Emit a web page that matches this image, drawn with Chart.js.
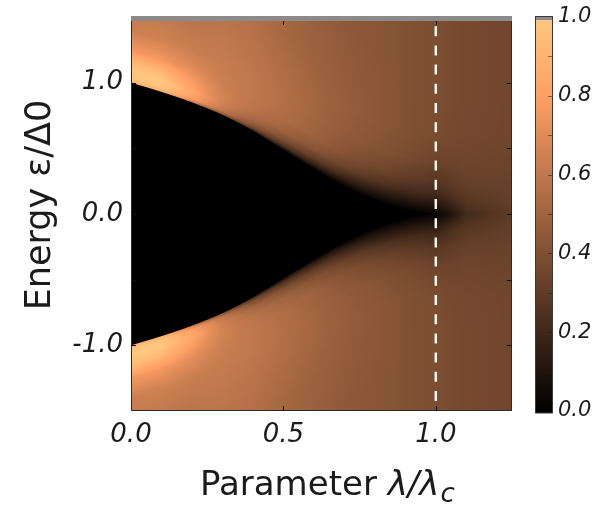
<!DOCTYPE html>
<html><head><meta charset="utf-8">
<script src="https://cdn.jsdelivr.net/npm/chart.js@4.4.1/dist/chart.umd.min.js"></script>
<style>html,body{margin:0;padding:0;background:#fff;}canvas{display:block;}</style>
</head><body>
<canvas id="c" width="602" height="511"></canvas>
<script>
// ---- data ----
const lambdaRange = [0, 1.25];
const energyRange = [-1.5, 1.5];
const lambdaTickStep = 0.5;
const energyTickStep = 0.5;
const colorbarTickStep = 0.2;
const criticalLambda = 1.0;
// columns of the map (lambda / lambda_c)
const lambdaCols = [0, 0.1, 0.2, 0.3, 0.4, 0.5, 0.6, 0.7, 0.8, 0.9, 1.0, 1.05, 1.1, 1.25];
// gap edge (epsilon / Delta0) per column
const gapEdge = [1.0, 0.93, 0.85, 0.755, 0.635, 0.49, 0.345, 0.215, 0.11, 0.035, 0, 0, 0, 0];
// rows: distance above the gap edge, |eps| - gap
const aboveGap = [0, 0.03, 0.08, 0.15, 0.25, 0.4, 0.6, 0.9, 1.2, 1.5];
// density of states per column, along aboveGap
const dosL000 = [0.88, 0.98, 1.00, 0.94, 0.76, 0.64, 0.61, 0.60, 0.60, 0.60];
const dosL010 = [0.88, 0.98, 1.00, 0.92, 0.76, 0.65, 0.60, 0.58, 0.58, 0.58];
const dosL020 = [0.62, 0.80, 0.84, 0.79, 0.71, 0.63, 0.59, 0.57, 0.57, 0.57];
const dosL030 = [0.40, 0.60, 0.65, 0.66, 0.64, 0.62, 0.60, 0.57, 0.56, 0.56];
const dosL040 = [0.20, 0.40, 0.52, 0.58, 0.60, 0.60, 0.58, 0.56, 0.55, 0.55];
const dosL050 = [0.05, 0.25, 0.40, 0.50, 0.55, 0.56, 0.55, 0.52, 0.51, 0.51];
const dosL060 = [0.02, 0.15, 0.30, 0.42, 0.49, 0.51, 0.51, 0.49, 0.48, 0.48];
const dosL070 = [0.02, 0.10, 0.22, 0.34, 0.42, 0.46, 0.47, 0.46, 0.45, 0.45];
const dosL080 = [0.01, 0.07, 0.15, 0.27, 0.36, 0.42, 0.44, 0.44, 0.43, 0.43];
const dosL090 = [0.01, 0.05, 0.12, 0.22, 0.31, 0.38, 0.41, 0.41, 0.41, 0.41];
const dosL100 = [0.02, 0.05, 0.12, 0.20, 0.27, 0.34, 0.38, 0.39, 0.39, 0.39];
const dosL105 = [0.10, 0.13, 0.19, 0.25, 0.30, 0.34, 0.37, 0.38, 0.38, 0.38];
const dosL110 = [0.21, 0.23, 0.26, 0.29, 0.32, 0.35, 0.36, 0.37, 0.37, 0.37];
const dosL125 = [0.30, 0.30, 0.31, 0.32, 0.33, 0.34, 0.35, 0.35, 0.35, 0.35];
const dosColumns = [dosL000, dosL010, dosL020, dosL030, dosL040, dosL050, dosL060,
                    dosL070, dosL080, dosL090, dosL100, dosL105, dosL110, dosL125];

// ---- helpers ----
function locate(arr, v) {
  if (v <= arr[0]) return [0, 0];
  const n = arr.length - 1;
  if (v >= arr[n]) return [n - 1, 1];
  let i = 0;
  while (i < n - 1 && v > arr[i + 1]) i++;
  return [i, (v - arr[i]) / (arr[i + 1] - arr[i])];
}
// smooth (monotone cubic) reading of the gap edge between the sampled columns
function makeMonotone(xsArr, ysArr) {
  const n = xsArr.length, m = new Array(n), dk = [];
  for (let i = 0; i < n - 1; i++) dk.push((ysArr[i + 1] - ysArr[i]) / (xsArr[i + 1] - xsArr[i]));
  m[0] = dk[0]; m[n - 1] = dk[n - 2];
  for (let i = 1; i < n - 1; i++) m[i] = (dk[i - 1] * dk[i] <= 0) ? 0 : (dk[i - 1] + dk[i]) / 2;
  for (let i = 0; i < n - 1; i++) {
    if (dk[i] === 0) { m[i] = 0; m[i + 1] = 0; continue; }
    const a = m[i] / dk[i], b = m[i + 1] / dk[i], s = a * a + b * b;
    if (s > 9) { const t = 3 / Math.sqrt(s); m[i] = t * a * dk[i]; m[i + 1] = t * b * dk[i]; }
  }
  return v => {
    const [i, t] = locate(xsArr, v);
    const hh = xsArr[i + 1] - xsArr[i];
    const t2 = t * t, t3 = t2 * t;
    return (2 * t3 - 3 * t2 + 1) * ysArr[i] + (t3 - 2 * t2 + t) * hh * m[i] +
           (-2 * t3 + 3 * t2) * ysArr[i + 1] + (t3 - t2) * hh * m[i + 1];
  };
}
const gapAt = makeMonotone(lambdaCols, gapEdge);
function copper(v) {
  v = Math.max(0, Math.min(1, v));
  return [Math.min(255, 1.25 * v * 255), 0.7812 * v * 255, 0.4975 * v * 255];
}
const TEXT = '#1b1b1b';
const FAM = "'DejaVu Sans', sans-serif";

const heatmapPlugin = {
  id: 'heatmap',
  beforeDatasetsDraw(chart) {
    const { ctx, chartArea: a, scales } = chart;
    const xs = scales.x, ys = scales.y;
    const w = Math.round(a.right - a.left), h = Math.round(a.bottom - a.top);
    const off = document.createElement('canvas');
    off.width = w; off.height = h;
    const octx = off.getContext('2d');
    const img = octx.createImageData(w, h);
    const epp = (ys.max - ys.min) / h;
    for (let i = 0; i < w; i++) {
      const lam = xs.getValueForPixel(a.left + i + 0.5);
      const [ci, ct] = locate(lambdaCols, lam);
      const gap = Math.max(0, gapAt(lam));
      const c0 = dosColumns[ci], c1 = dosColumns[ci + 1];
      for (let j = 0; j < h; j++) {
        const e = Math.abs(ys.getValueForPixel(a.top + j + 0.5));
        const d = e - gap;
        let v = 0;
        const cover = gap > 0.002 ? Math.max(0, Math.min(1, d / epp + 0.5)) : 1;
        if (cover > 0) {
          const [ri, rt] = locate(aboveGap, Math.max(0, d));
          const v0 = c0[ri] * (1 - rt) + c0[ri + 1] * rt;
          const v1 = c1[ri] * (1 - rt) + c1[ri + 1] * rt;
          v = (v0 * (1 - ct) + v1 * ct) * cover;
        }
        const [r, g, b] = copper(v);
        const k = (j * w + i) * 4;
        img.data[k] = r; img.data[k + 1] = g; img.data[k + 2] = b; img.data[k + 3] = 255;
      }
    }
    octx.putImageData(img, 0, 0);
    ctx.drawImage(off, a.left, a.top);
  },
  afterDraw(chart) {
    const { ctx, chartArea: a, scales } = chart;
    const xs = scales.x, ys = scales.y, cb = scales.cb;
    ctx.save();
    // frame
    ctx.strokeStyle = '#2a2a2a'; ctx.lineWidth = 1;
    ctx.beginPath();
    ctx.moveTo(a.left + 0.5, a.top); ctx.lineTo(a.left + 0.5, a.bottom - 0.5);
    ctx.lineTo(a.right - 0.5, a.bottom - 0.5); ctx.lineTo(a.right - 0.5, a.top);
    ctx.stroke();
    ctx.fillStyle = '#8a8a8a';
    ctx.fillRect(a.left, a.top - 1, a.right - a.left, 5);
    // inner ticks
    ctx.strokeStyle = '#111'; ctx.lineWidth = 1;
    ctx.beginPath();
    xs.ticks.forEach(t => {
      const px = Math.round(xs.getPixelForValue(t.value)) + 0.5;
      if (px <= a.left + 2 || px >= a.right - 2) return;
      ctx.moveTo(px, a.bottom); ctx.lineTo(px, a.bottom - 5);
      ctx.moveTo(px, a.top + 4); ctx.lineTo(px, a.top + 8);
    });
    ys.ticks.forEach(t => {
      const py = Math.round(ys.getPixelForValue(t.value)) + 0.5;
      if (py <= a.top + 4 || py >= a.bottom - 2) return;
      ctx.moveTo(a.left, py); ctx.lineTo(a.left + 5, py);
      ctx.moveTo(a.right, py); ctx.lineTo(a.right - 5, py);
    });
    ctx.stroke();
    // colorbar
    const bx0 = a.right + 23, bx1 = a.right + 41;
    const by0 = cb.getPixelForValue(1), by1 = cb.getPixelForValue(0) + 2;
    const grad = ctx.createLinearGradient(0, by1, 0, by0);
    for (let s = 0; s <= 20; s++) {
      const [r, g, b] = copper(s / 20);
      grad.addColorStop(s / 20, `rgb(${r | 0},${g | 0},${b | 0})`);
    }
    ctx.fillStyle = grad;
    ctx.fillRect(bx0, by0, bx1 - bx0, by1 - by0);
    ctx.fillStyle = '#8a8a8a';
    ctx.fillRect(bx0, by0 - 1, bx1 - bx0, 4);
    ctx.strokeStyle = '#3a3a3a';
    ctx.strokeRect(bx0 + 0.5, by0 - 0.5, bx1 - bx0 - 1, by1 - by0 + 0.5);
    ctx.strokeStyle = 'rgba(50,25,10,0.55)';
    ctx.beginPath();
    for (let s = 1; s < 10; s++) {
      const py = Math.round(cb.getPixelForValue(s / 10)) + 0.5;
      ctx.moveTo(bx1 - 1, py); ctx.lineTo(bx1 - 5, py);
    }
    ctx.stroke();
    // axis titles
    ctx.fillStyle = TEXT;
    ctx.textBaseline = 'alphabetic';
    ctx.textAlign = 'left';
    let x = a.left + 69;
    const yb = 495;
    ctx.font = `34px ${FAM}`;
    const p1 = 'Parameter ';
    ctx.fillText(p1, x, yb); x += ctx.measureText(p1).width;
    ctx.font = `italic 34px ${FAM}`;
    const p2 = 'λ/λ';
    ctx.fillText(p2, x, yb); x += ctx.measureText(p2).width + 1;
    ctx.font = `italic 26px ${FAM}`;
    ctx.fillText('c', x, yb + 7);
    ctx.save();
    ctx.translate(50, (a.top + a.bottom) / 2 - 9);
    ctx.rotate(-Math.PI / 2);
    ctx.textAlign = 'center';
    ctx.font = `35px ${FAM}`;
    ctx.fillText('Energy ε/Δ0', 0, 0);
    ctx.restore();
    ctx.restore();
  }
};

function noPad(s) { s.paddingTop = 0; s.paddingBottom = 0; s.paddingLeft = 0; s.paddingRight = 0; }
const tickFont = { family: FAM, style: 'italic', size: 26 };
new Chart(document.getElementById('c'), {
  type: 'scatter',
  data: {
    datasets: [{
      data: [{ x: criticalLambda, y: energyRange[1] }, { x: criticalLambda, y: energyRange[0] }],
      showLine: true,
      borderColor: 'rgba(250,250,244,0.97)',
      borderWidth: 2.5,
      borderDash: [10, 9.2],
      borderDashOffset: 10,
      pointRadius: 0,
      xAxisID: 'x', yAxisID: 'y'
    }]
  },
  options: {
    responsive: false,
    animation: false,
    events: [],
    layout: { padding: { top: 17, left: 0, right: 0, bottom: 0 } },
    plugins: { legend: { display: false }, tooltip: { enabled: false } },
    scales: {
      x: {
        type: 'linear', position: 'bottom', min: lambdaRange[0], max: lambdaRange[1],
        ticks: { stepSize: lambdaTickStep, includeBounds: false, font: tickFont, color: TEXT, padding: 9,
                 maxRotation: 0, callback: v => Number(v).toFixed(1) },
        grid: { display: false, drawTicks: false }, border: { display: false },
        afterFit(s) { s.height = 100; noPad(s); }
      },
      y: {
        type: 'linear', position: 'left', min: energyRange[0], max: energyRange[1],
        ticks: { stepSize: energyTickStep, font: tickFont, color: TEXT, padding: 8,
                 callback: v => Math.abs(v - Math.round(v)) < 1e-9 ? Number(v).toFixed(1) : '' },
        grid: { display: false, drawTicks: false }, border: { display: false },
        afterFit(s) { s.width = 131; noPad(s); }
      },
      cb: {
        type: 'linear', position: 'right', min: 0, max: 1,
        ticks: { stepSize: colorbarTickStep, font: { family: FAM, style: 'italic', size: 21 }, color: TEXT,
                 padding: 46, callback: v => Number(v).toFixed(1) },
        grid: { display: false, drawTicks: false }, border: { display: false },
        afterFit(s) { s.width = 90; noPad(s); }
      }
    }
  },
  plugins: [heatmapPlugin]
});
</script>
</body></html>
